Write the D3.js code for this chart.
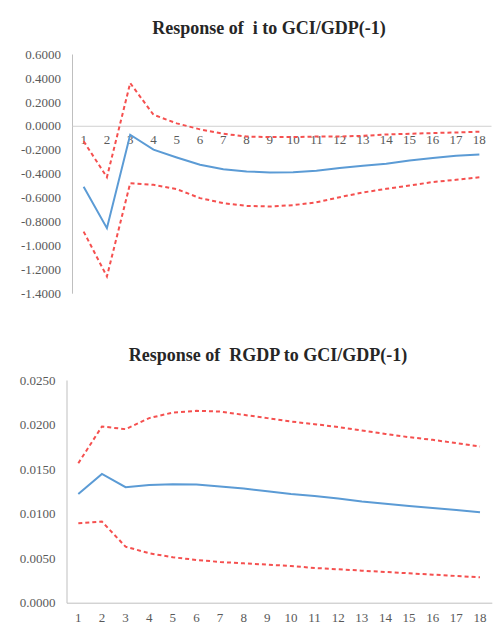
<!DOCTYPE html>
<html lang="en">
<head>
    <meta charset="UTF-8">
    <title>Impulse responses</title>
    <script src="https://d3js.org/d3.v7.min.js" charset="utf-8"></script>
    <style>
        body { margin: 0; background: #fff; }
        svg text { font-family: "Liberation Serif", "Times New Roman", serif; }
    </style>
</head>
<body>
    <div id="vis"></div>

    <script>

        var periods = d3.range(1, 19);

        // response of i to GCI/GDP(-1)
        var iResp  = [-0.51, -0.856, -0.075, -0.20, -0.265, -0.326, -0.363, -0.382, -0.39,
                      -0.388, -0.376, -0.354, -0.335, -0.318, -0.29, -0.27, -0.251, -0.24];
        var iUpper = [-0.13, -0.43, 0.357, 0.092, 0.02, -0.03, -0.067, -0.09, -0.095,
                      -0.095, -0.09, -0.09, -0.084, -0.073, -0.067, -0.061, -0.056, -0.05];
        var iLower = [-0.885, -1.26, -0.48, -0.494, -0.53, -0.605, -0.647, -0.67, -0.675,
                      -0.664, -0.64, -0.597, -0.558, -0.527, -0.5, -0.47, -0.452, -0.43];
        var iTicks = [0.6, 0.4, 0.2, 0, -0.2, -0.4, -0.6, -0.8, -1.0, -1.2, -1.4];

        // response of RGDP to GCI/GDP(-1)
        var gResp  = [0.01221, 0.01446, 0.01297, 0.01322, 0.0133, 0.01326, 0.01304, 0.01281, 0.01251,
                      0.01221, 0.01199, 0.01169, 0.01135, 0.01112, 0.01086, 0.01064, 0.01042, 0.01016];
        var gUpper = [0.01566, 0.01978, 0.01948, 0.02072, 0.02135, 0.02154, 0.02146, 0.02109, 0.02072,
                      0.02034, 0.02004, 0.01971, 0.01933, 0.01895, 0.01858, 0.01828, 0.01791, 0.01753];
        var gLower = [0.00892, 0.0091, 0.00629, 0.00555, 0.0051, 0.0048, 0.00457, 0.00442, 0.00427,
                      0.00412, 0.0039, 0.00375, 0.0036, 0.00345, 0.0033, 0.00315, 0.003, 0.00285];
        var gTicks = [0.025, 0.02, 0.015, 0.01, 0.005, 0];

        var width = 494;
        var height = 635;

        var svg = d3.select("#vis")
            .append("svg")
              .attr('width', width)
              .attr('height', height);

        function drawChart(cfg) {
            var g = svg.append('g');

            var x = d3.scaleBand()
                .domain(periods)
                .range([cfg.left, cfg.right]);

            var y = d3.scaleLinear()
                .domain(cfg.domain)
                .range([cfg.bottom, cfg.top]);

            // title (keeps the double space of the original)
            g.append('text')
                .attr('x', cfg.titleX)
                .attr('y', cfg.titleY)
                .attr('text-anchor', 'middle')
                .style('white-space', 'pre')
                .style('font-size', '18px')
                .style('font-weight', 'bold')
                .style('fill', '#262626')
                .text(cfg.title);

            // y axis
            var yAxis = d3.axisLeft(y)
                .tickValues(cfg.ticks)
                .tickSize(0)
                .tickPadding(11)
                .tickFormat(d3.format('.4f'));

            var ya = g.append('g')
                .attr('transform', 'translate(' + cfg.left + ',0)')
                .call(yAxis);
            ya.select('.domain').attr('stroke', '#bfbfbf');
            ya.selectAll('text')
                .style('font-size', '13px')
                .style('fill', '#595959')
                .text(function(d) { return d3.format('.4f')(d).replace('−', '-'); });

            // x axis on the zero line
            var xAxis = d3.axisBottom(x)
                .tickSize(0)
                .tickPadding(cfg.xPad);

            var xa = g.append('g')
                .attr('transform', 'translate(0,' + y(0) + ')')
                .call(xAxis);
            xa.select('.domain').attr('stroke', cfg.zeroColor);
            xa.selectAll('text')
                .style('font-size', '13px')
                .style('fill', '#595959');

            var line = d3.line()
                .x(function(d, i) { return x(periods[i]) + x.bandwidth() / 2; })
                .y(function(d) { return y(d); });

            [cfg.upper, cfg.lower].forEach(function(band) {
                g.append('path')
                    .datum(band)
                    .attr('fill', 'none')
                    .attr('stroke', '#f5504f')
                    .attr('stroke-width', 2)
                    .attr('stroke-dasharray', '4,3')
                    .attr('d', line);
            });

            g.append('path')
                .datum(cfg.resp)
                .attr('fill', 'none')
                .attr('stroke', '#5b9bd5')
                .attr('stroke-width', 2)
                .attr('d', line);
        }

        drawChart({
            title: 'Response of  i to GCI/GDP(-1)',
            titleX: 269, titleY: 34,
            left: 72, right: 491, top: 54, bottom: 293.2,
            domain: [-1.4, 0.6],
            ticks: iTicks,
            resp: iResp, upper: iUpper, lower: iLower,
            xPad: 9, zeroColor: '#d0d0d0'
        });

        drawChart({
            title: 'Response of  RGDP to GCI/GDP(-1)',
            titleX: 268, titleY: 361,
            left: 66.5, right: 491.8, top: 380, bottom: 602.7,
            domain: [0, 0.025],
            ticks: gTicks,
            resp: gResp, upper: gUpper, lower: gLower,
            xPad: 10, zeroColor: '#bfbfbf'
        });

    </script>
</body>
</html>
